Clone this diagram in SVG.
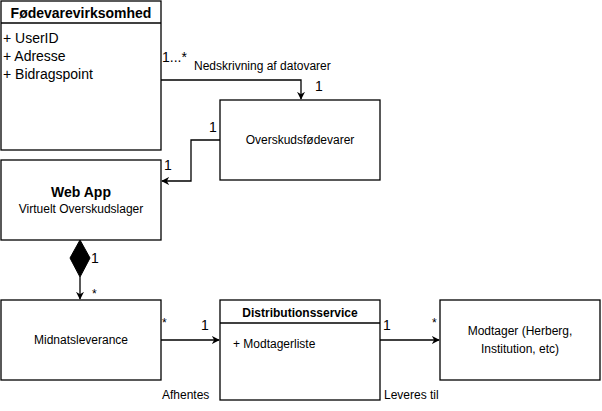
<svg xmlns="http://www.w3.org/2000/svg" width="602" height="411" viewBox="0 0 602 411">
<defs>
<style>
text{font-family:"Liberation Sans",Arial,Helvetica,sans-serif;fill:#000}
.box{fill:#fff;stroke:#000;stroke-width:1.3}
.ln{fill:none;stroke:#000;stroke-width:1.3}
.t12{font-size:12px}
.t11{font-size:11px}
.t14{font-size:14px}
.c{text-anchor:middle}
.b{font-weight:bold}
</style>
<marker id="arr" viewBox="0 0 10 10" refX="9" refY="5" markerWidth="8" markerHeight="8" markerUnits="userSpaceOnUse" orient="auto">
<path d="M0,0 L10,5 L0,10 L3,5 Z" fill="#000"/>
</marker>
</defs>
<rect width="602" height="411" fill="#fff"/>
<g id="connectors">
<path class="ln" d="M161,80 H301 V99" marker-end="url(#arr)"/>
<path class="ln" d="M220,140 H191 V181 H162" marker-end="url(#arr)"/>
<path d="M80,240 L90,258 L80,277 L70,258 Z" fill="#000" stroke="#000"/>
<path class="ln" d="M80,277 V299" marker-end="url(#arr)"/>
<path class="ln" d="M161,340 H219" marker-end="url(#arr)"/>
<path class="ln" d="M380,340 H439" marker-end="url(#arr)"/>
<text class="t14" x="162" y="62">1...*</text>
<text class="t12" x="194" y="70">Nedskrivning af datovarer</text>
<text class="t14" x="315" y="91">1</text>
<text class="t14" x="209" y="132">1</text>
<text class="t14" x="164" y="170">1</text>
<text class="t14" x="91" y="263">1</text>
<text class="t12" x="92" y="298">*</text>
<text class="t12" x="162" y="327">*</text>
<text class="t14" x="201" y="330">1</text>
<text class="t12" x="162" y="399">Afhentes</text>
<text class="t14" x="383" y="330">1</text>
<text class="t12" x="432" y="327">*</text>
<text class="t12" x="384" y="399">Leveres til</text>
</g>
<g id="foedevarevirksomhed">
<rect class="box" x="1" y="1" width="160" height="149"/>
<line class="ln" x1="1" y1="23" x2="161" y2="23"/>
<text class="t14 b c" x="81" y="18">Fødevarevirksomhed</text>
<text class="t14" x="3" y="43">+ UserID</text>
<text class="t14" x="3" y="61">+ Adresse</text>
<text class="t14" x="3" y="79">+ Bidragspoint</text>
</g>
<g id="overskudsfoedevarer">
<rect class="box" x="220" y="100" width="160" height="80"/>
<text class="t12 c" x="300" y="144">Overskudsfødevarer</text>
</g>
<g id="webapp">
<rect class="box" x="1" y="160" width="160" height="80"/>
<text class="t14 b c" x="81" y="197">Web App</text>
<text class="t12 c" x="81" y="213">Virtuelt Overskudslager</text>
</g>
<g id="midnatsleverance">
<rect class="box" x="1" y="300" width="160" height="80"/>
<text class="t12 c" x="81" y="344">Midnatsleverance</text>
</g>
<g id="distributionsservice">
<rect class="box" x="220" y="300" width="160" height="100"/>
<line class="ln" x1="220" y1="323" x2="380" y2="323"/>
<text class="t12 b c" x="300" y="317">Distributionsservice</text>
<text class="t12" x="233" y="348">+ Modtagerliste</text>
</g>
<g id="modtager">
<rect class="box" x="440" y="300" width="160" height="80"/>
<text class="t12 c" x="520" y="335">Modtager (Herberg,</text>
<text class="t12 c" x="520" y="353">Institution, etc)</text>
</g>
</svg>
